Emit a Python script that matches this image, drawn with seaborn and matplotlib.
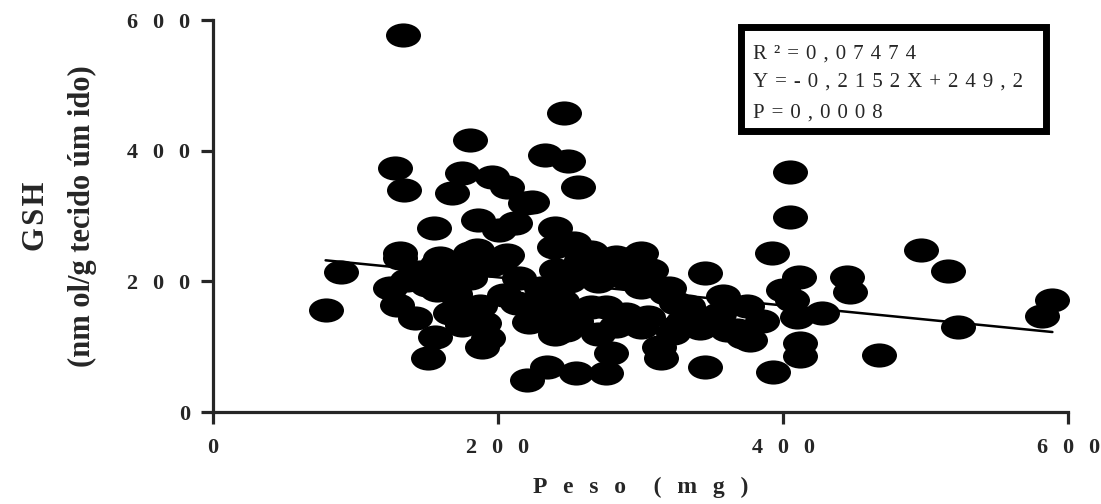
import numpy as np
import pandas as pd
import seaborn as sns
import matplotlib.pyplot as plt
from matplotlib.path import Path
from matplotlib.transforms import Affine2D
from matplotlib.patches import Rectangle

# valores (peso em mg, GSH em nmol/g)
peso = [79, 90, 133, 128, 134, 131, 131, 124, 136, 129, 142, 145, 150,
        155, 159, 157, 157, 166, 182, 156, 151, 189, 193, 175, 180, 175, 168,
        196, 206, 219, 186, 212, 201, 185, 206, 180, 204, 178, 180, 204, 213,
        190, 168, 187, 165, 195, 170,
        222, 220, 234, 225, 239, 248, 236, 229, 241, 258, 246, 233, 249, 256,
        224, 240, 239, 253, 265, 255, 265, 230, 250, 245, 215, 260, 255, 240,
        283, 300, 295, 279, 307, 279, 300, 318, 325, 333, 340, 342, 326, 323,
        313, 314, 279, 276, 283, 305, 270, 290, 276, 290, 345, 345, 342, 320,
        270, 300, 330,
        358, 375, 361, 368, 372, 377, 392, 405, 405, 411, 400, 406, 427, 410,
        412, 412, 393, 445, 447, 467, 385, 355,
        497, 516, 523, 589, 582]
gsh = [156, 215, 577, 374, 340, 244, 236, 190, 202, 164, 144, 215, 195,
       281, 236, 226, 187, 152, 154, 115, 83, 100, 113, 133, 416, 366, 335,
       359, 345, 320, 294, 290, 279, 248, 241, 244, 236, 233, 205, 179, 167,
       136, 151, 162, 215, 225, 180,
       138, 49, 69, 141, 151, 126, 146, 172, 218, 233, 458, 394, 384, 345,
       322, 282, 253, 259, 245, 59, 161, 190, 200, 170, 205, 210, 140, 120,
       238, 244, 236, 228, 218, 218, 192, 182, 167, 162, 146, 129, 131, 121,
       100, 83, 90, 60, 131, 146, 200, 205, 161, 150, 213, 69, 141, 190,
       120, 130, 140,
       177, 162, 126, 126, 115, 110, 243, 367, 299, 207, 187, 172, 152, 146,
       106, 85, 62, 207, 184, 87, 140, 150,
       248, 216, 130, 172, 147]

slope = -0.2152
intercept = 249.2
r2_txt = "0,07474"
eq_txt = "-0,2152X+249,2"
p_txt = "0,0008"
ticks = [0, 200, 400, 600]

sns.set_style("ticks")
plt.rcParams['font.family'] = ['Liberation Serif', 'DejaVu Serif']


def spaced(s, sep="\u2002\u2006"):
    return sep.join(s)


df = pd.DataFrame({"peso": peso, "gsh": gsh})

fig = plt.figure(figsize=(11.01, 5.04), dpi=100)
ax = fig.add_axes([0.1935, 0.1825, 0.7766, 0.7778])

# marcador eliptico (o original esta esticado na horizontal)
ellipse = Path.unit_circle().transformed(Affine2D().scale(1, 0.69))
sns.scatterplot(data=df, x="peso", y="gsh", marker=ellipse, s=635,
                color="black", linewidth=0, ax=ax, clip_on=False, zorder=3)

x_fit = np.array([df.peso.min(), df.peso.max()])
ax.plot(x_fit, intercept + slope * x_fit, color="black", lw=1.8, zorder=2)

ax.set_xlim(0, 600)
ax.set_ylim(0, 600)
sns.despine(ax=ax)
for side in ["left", "bottom"]:
    ax.spines[side].set_linewidth(2.3)
ax.tick_params(length=8.5, width=2.3, direction="out")
ax.tick_params(axis="x", pad=10)
ax.tick_params(axis="y", pad=8)
ax.set_xticks(ticks)
ax.set_yticks(ticks)
ax.set_xticklabels([spaced(str(t)) for t in ticks], fontsize=16, fontweight="bold")
ax.set_yticklabels([spaced(str(t)) for t in ticks], fontsize=16, fontweight="bold")

gap = "\u2002\u2006"
ax.set_xlabel(spaced("Peso", gap) + gap + "\u2002" + spaced("(mg)", gap),
              fontsize=17, fontweight="bold")
ax.xaxis.set_label_coords(0.5, -0.165)
ax.set_ylabel("G\u200aS\u200aH\n(nm ol/g tecido úm ido)", fontsize=22,
              fontweight="bold", linespacing=1.75)
ax.yaxis.set_label_coords(-0.136, 0.5)

# caixa com a regressao
ax.add_patch(Rectangle((0.618, 0.7156), 0.3557, 0.2678, transform=ax.transAxes,
                       facecolor="white", edgecolor="black", lw=5, zorder=4,
                       clip_on=False))
sep = "\u2004"
lines = ["R" + sep + "\u00b2" + sep + spaced("=" + r2_txt, sep),
         spaced("Y=" + eq_txt, sep),
         spaced("P=" + p_txt, sep)]
for txt, yb in zip(lines, [0.9005, 0.829, 0.75]):
    ax.text(0.6316, yb, txt, transform=ax.transAxes, fontsize=15,
            va="baseline", ha="left", zorder=5)

fig.savefig("out.png", dpi=100)
